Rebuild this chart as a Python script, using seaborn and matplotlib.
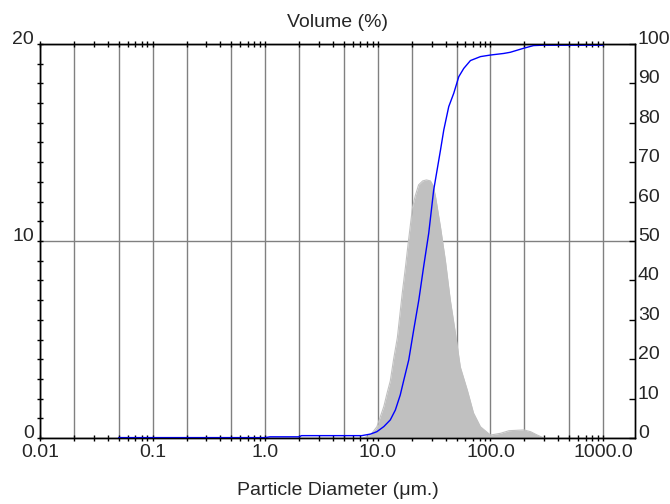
import matplotlib
matplotlib.use("Agg")
import matplotlib.pyplot as plt
import matplotlib.ticker as mticker
import seaborn as sns
import pandas as pd

# volume distribution (left axis, %)
size_um = [7.4, 8.6, 9.8, 11.3, 12.1, 12.9, 13.8, 14.9, 16.5, 17.6, 18.6, 20.3,
           21.5, 23.0, 25.0, 27.0, 29.3, 31.0, 32.4, 36.0, 39.8, 44.0, 48.9,
           54.0, 62.5, 70.7, 81.5, 100, 123, 146, 198, 227, 260, 298]
volume = [0.0, 0.15, 0.57, 1.6, 2.3, 2.9, 4.0, 5.1, 7.4, 8.7, 9.9, 11.7,
          12.3, 12.85, 13.05, 13.1, 13.05, 12.8, 12.3, 10.7, 9.0, 7.0, 5.3,
          3.6, 2.4, 1.27, 0.57, 0.15, 0.24, 0.37, 0.41, 0.32, 0.15, 0.0]

# cumulative volume (right axis, %)
cum_um = [0.05, 1.0, 1.1, 2.0, 2.1, 7.2, 8.6, 9.8, 11.3, 12.9, 14.3, 15.8, 17.0,
          18.8, 20.8, 23.1, 25.5, 28.3, 31.3, 36.0, 38.5, 42.6, 47.2, 52.3,
          57.9, 66.4, 81.5, 100, 131, 150, 196, 241, 295, 1000]
cum_vol = [0.1, 0.1, 0.3, 0.3, 0.6, 0.6, 1.0, 1.6, 2.9, 4.6, 7.1, 10.9, 14.7,
           19.8, 27.4, 35.0, 43.5, 52.0, 62.9, 73.1, 78.2, 84.1, 87.5, 91.7,
           93.8, 95.8, 96.8, 97.2, 97.6, 97.9, 98.9, 99.6, 99.7, 99.7]

x_labels = {0.01: "0.01", 0.1: "0.1", 1.0: "1.0", 10.0: "10.0",
            100.0: "100.0", 1000.0: "1000.0"}
left_ticks = list(range(0, 21))
left_labels = [0, 10, 20]
right_ticks = list(range(0, 101, 10))

sns.set_style("white")
plt.rcParams['font.family'] = ['Liberation Sans', 'DejaVu Sans']
FS = 14

dist = pd.DataFrame({"size": size_um, "vol": volume})
cum = pd.DataFrame({"size": cum_um, "cum": cum_vol})

fig = plt.figure(figsize=(6.7, 5.04), dpi=100)
ax = fig.add_axes([40 / 670, 66 / 504, 595 / 670, 394 / 504])
ax.set_xscale("log")
ax.set_axisbelow(True)

ax.fill_between(dist["size"], dist["vol"], color="#c0c0c0", lw=0, zorder=2)
sns.lineplot(data=dist, x="size", y="vol", ax=ax, color="#c0c0c0", lw=0.8, zorder=2)

ax.set_xlim(0.01, 1920)
ax.set_ylim(0, 20)

# x ticks: grid at 1, 2, 5 per decade, labels only at decades
ax.xaxis.set_major_locator(mticker.LogLocator(base=10, subs=(1.0, 2.0, 5.0), numticks=30))
ax.xaxis.set_minor_locator(mticker.LogLocator(base=10, subs=(3, 4, 6, 7, 8, 9), numticks=30))
ax.xaxis.set_major_formatter(mticker.FuncFormatter(
    lambda v, p: next((s for k, s in x_labels.items() if abs(v / k - 1) < 1e-6), "")))
ax.xaxis.set_minor_formatter(mticker.NullFormatter())

ax.set_yticks(left_labels)
ax.set_yticklabels([str(v) for v in left_labels])
ax.set_yticks(left_ticks, minor=True)
ax.grid(True, which="major", color="#808080", lw=1.0)

ax.tick_params(axis="x", which="both", top=True, bottom=True, direction="inout",
               length=5, width=1, color="black", labelsize=FS, pad=2)
ax.tick_params(axis="y", which="both", left=True, direction="inout",
               length=5, width=1, color="black", labelsize=FS, pad=2)
plt.setp(ax.get_yticklabels(), va="baseline")

for s in ax.spines.values():
    s.set_color("black")
    s.set_linewidth(1)

ax.set_xlabel("Particle Diameter (\u03bcm.)", fontsize=FS, labelpad=15)
ax.set_ylabel("")
ax.set_title("Volume (%)", fontsize=FS, pad=12)

ax2 = ax.twinx()
sns.lineplot(data=cum, x="size", y="cum", ax=ax2, color="#0000ff", lw=1.0)
ax2.set_ylim(0, 100)
ax2.set_yticks(right_ticks)
ax2.set_yticklabels([str(v) for v in right_ticks])
ax2.set_ylabel("")
ax2.grid(False)
ax2.tick_params(axis="y", right=True, direction="in", length=4, width=1,
                color="black", labelsize=FS, pad=2)
plt.setp(ax2.get_yticklabels(), va="baseline")
for s in ax2.spines.values():
    s.set_color("black")
    s.set_linewidth(1)

fig.savefig("out.png", dpi=100)
